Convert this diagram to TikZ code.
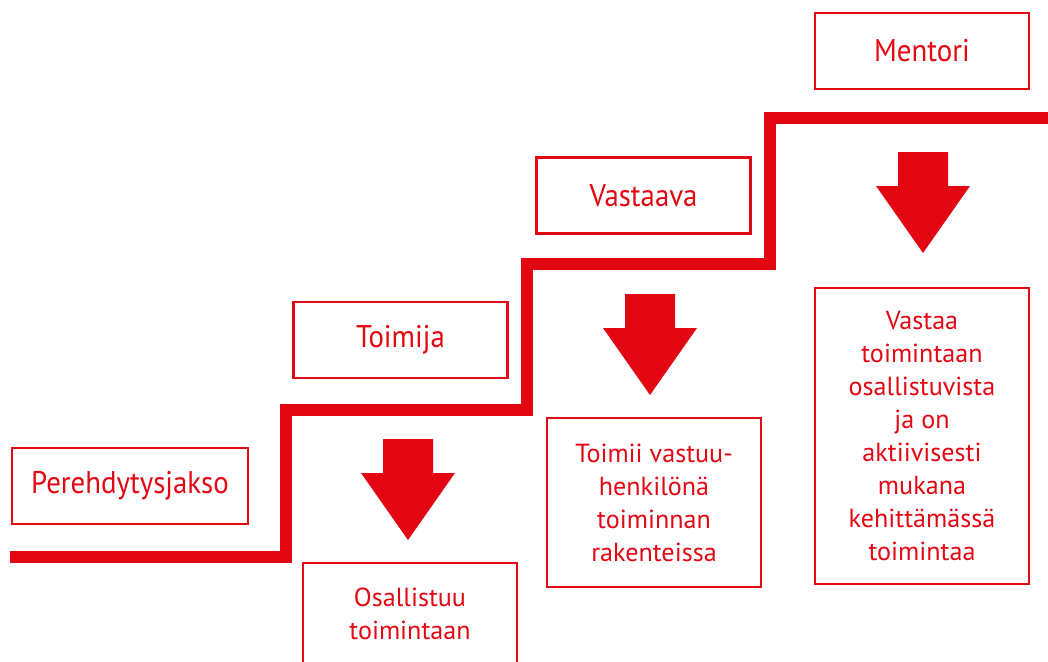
\documentclass[tikz,border=0pt]{standalone}
\usepackage{fontspec}
\setmainfont{PT Sans}
\newfontfamily\labelfont{PT Sans}[FakeStretch=0.92]
\definecolor{stepred}{HTML}{E30613}
\begin{document}
\begin{tikzpicture}[x=0.75pt,y=-0.75pt,
  box/.style={draw=stepred, line width=1.6pt, text=stepred, inner sep=0pt, align=center,
    minimum width=160.5pt, minimum height=57pt},
  toplabel/.style={font=\labelfont\fontsize{23.5}{28}\selectfont},
  bodytext/.style={font=\fontsize{19.6}{24.75}\selectfont},
  stair/.style={draw=stepred, line width=9pt},
  bigarrow/.pic={\fill[stepred] (-25,0) -- (25,0) -- (25,34) -- (47,34) -- (0,101) -- (-47,34) -- (-25,34) -- cycle;}
]
\useasboundingbox (0,0) rectangle (1048,661);
\clip (0,0) rectangle (1048,661);

% staircase
\coordinate (s0) at (10,557);
\coordinate (s1) at (286,557);
\coordinate (s2) at (286,410);
\coordinate (s3) at (527,410);
\coordinate (s4) at (527,264);
\coordinate (s5) at (770,264);
\coordinate (s6) at (770,118);
\coordinate (s7) at (1048,118);
\draw[stair] (s0) -- (s1) -- (s2) -- (s3) -- (s4) -- (s5) -- (s6) -- (s7);

% level labels
\node[box, toplabel, minimum width=177pt] (pere) at (130,486) {Perehdytysjakso};
\node[box, toplabel] (toimija) at (400.5,340) {Toimija};
\node[box, toplabel] (vastaava) at (643.5,195.5) {Vastaava};
\node[box, toplabel] (mentori) at (922,51) {Mentori};

% arrows
\pic at (408,439) {bigarrow};
\pic at (650,294) {bigarrow};
\pic at (923,152) {bigarrow};

% description boxes
\node[box, minimum height=105pt] (osalbox) at (410,633) {};
\node[bodytext, text=stepred, align=center] (osaltext) at (410,614) {Osallistuu\\toimintaan};
\node[box, bodytext, minimum height=126.75pt] (toimii) at (654,502.5) {Toimii vastuu-\\henkilönä\\toiminnan\\rakenteissa};
\node[box, bodytext, minimum height=222pt] (vastaa) at (922,436) {Vastaa\\toimintaan\\osallistuvista\\ja on\\aktiivisesti\\mukana\\kehittämässä\\toimintaa};
\end{tikzpicture}
\end{document}
